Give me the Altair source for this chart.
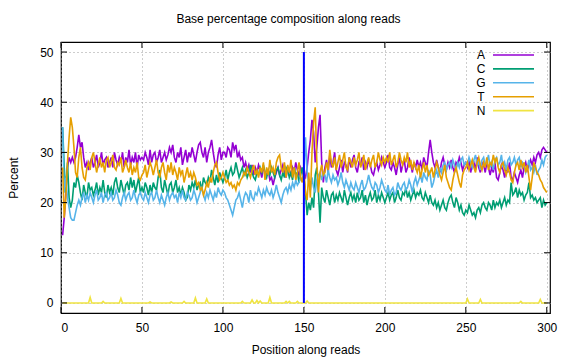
import altair as alt
import pandas as pd

# ---------------- data ----------------
positions = list(range(1, 301))

A = [
    13.5, 17, 22, 27, 29, 28, 29, 28, 29, 31,
    33.5, 31, 32, 29, 27, 28, 26.5, 28, 29, 27,
    28, 29.5, 27, 28, 30, 27.5, 28.5, 29, 27, 28,
    29, 27, 30, 28.5, 27.5, 29, 28, 30, 27, 29,
    28, 30.5, 27.5, 29, 28, 30, 27, 29.5, 28.5, 29,
    28.5, 30, 29, 27.5, 30.5, 28, 29.5, 30, 28, 29,
    30.5, 28, 29, 30, 28.5, 29.5, 31, 30, 31.5, 29,
    28, 30, 29, 31, 27.5, 29, 30.5, 28, 30, 29,
    31, 29.5, 28, 30, 31.5, 32, 30, 29, 31, 28,
    30, 31, 32.5, 30, 28, 27, 29.5, 31, 28.5, 30,
    30, 29, 31, 30.5, 29, 32, 30.5, 31.5, 29, 30,
    28.5, 29, 27, 28, 26.5, 27.5, 26, 27.5, 25.5, 27,
    26, 27.5, 26.5, 25, 27, 26, 25.5, 26.5, 24.5, 25,
    23.5, 25, 26, 27, 25.5, 26.5, 27.5, 26, 25, 27,
    26.5, 25.5, 27, 26, 28, 26.5, 25.5, 27, 26, 25.5,
    25, 27, 30, 32.5, 36.5, 34, 28, 31, 35, 37.5,
    28, 24, 27, 28.5, 26, 29.5, 27, 28, 30, 26.5,
    25.5, 27, 28.5, 26, 28, 27.5, 26, 29, 27, 28.5,
    29.5, 27, 26, 28, 27.5, 29, 26.5, 28, 27, 28.5,
    27.5, 26, 25.5, 27, 28, 26.5, 27.5, 29, 28, 27,
    28, 29.5, 27, 26.5, 28, 27, 25.5, 27.5, 29, 26,
    27.5, 28.5, 26, 27, 29, 27.5, 26, 28, 27, 28.5,
    27, 28, 26.5, 29, 28, 27, 30, 32.5, 30, 28,
    27, 28.5, 27, 26, 28, 29, 27.5, 26.5, 28, 27,
    28.5, 27, 26, 28, 27.5, 29, 28, 26.5, 27.5, 28,
    27, 28.5, 26, 27.5, 28, 26.5, 29, 27, 26, 28,
    27.5, 26, 28, 27, 25.5, 27, 26, 28, 25, 24.5,
    26, 27.5, 26.5, 25, 27, 26, 28, 25, 24.5, 26,
    25, 24, 25.5, 26.5, 25, 27, 28, 26.5, 27.5, 28.5,
    27.5, 29, 28, 29.5, 30, 29, 30.5, 31, 30.5, 30,
]

C = [
    35, 27, 22, 28, 21, 19, 20.5, 24, 23, 25.5,
    24, 22, 20.5, 23.5, 22, 21, 24, 22.5, 23, 21.5,
    22.5, 24, 21.5, 23, 22, 24.5, 22, 21, 23.5, 22,
    23, 21.5, 24, 25, 23, 22, 24.5, 23, 21.5, 23.5,
    24, 22.5, 25, 23, 24.5, 22, 23.5, 25, 22, 23,
    22, 24, 23, 21.5, 23.5, 22, 24, 23, 22.5, 25,
    26.5, 23, 22, 24.5, 23, 21.5, 23.5, 24, 22, 23,
    24.5, 22, 23, 21.5, 23, 22, 20.5, 21, 23.5, 22.5,
    24, 23, 24.5, 22.5, 23.5, 24, 22.5, 25, 24, 23.5,
    25, 24, 26.5, 25, 23.5, 25.5, 24, 26, 25, 24,
    25, 26.5, 24.5, 26, 27, 25.5, 26, 28, 26.5, 25,
    26, 27, 25.5, 26.5, 25, 26, 27.5, 26, 25, 24.5,
    26, 25.5, 27, 26, 27.5, 26, 25, 26.5, 25.5, 27,
    26, 25, 26.5, 27, 25.5, 24.5, 26, 25, 27, 26.5,
    25, 26, 24.5, 27, 25.5, 26, 24, 25.5, 27, 25,
    22, 17.5, 20, 18.5, 21, 19, 25.5, 27, 22, 16,
    23, 21, 20, 22.5, 21, 19.5, 21.5, 22, 20, 21.5,
    20.5, 22, 21, 20, 22.5, 21, 19.5, 21, 22, 20.5,
    21.5, 20, 22, 20.5, 21, 22.5, 20, 21.5, 19.5, 21,
    22, 20.5, 21, 22.5, 20, 21.5, 20.5, 22, 21, 20,
    21, 22, 20.5, 21.5, 22, 20, 21, 22.5, 21, 20.5,
    22, 21.5, 23, 21, 22, 20.5, 21.5, 22.5, 21, 22,
    21.5, 22.5, 21, 20.5, 22, 21, 20, 21.5, 20, 19.5,
    20.5, 19, 20, 18.5, 19.5, 20.5, 19, 18.5, 20, 21,
    21.5, 20, 19, 21, 20, 18.5, 19.5, 18, 17.5, 18.5,
    18, 19.5, 18.5, 17.5, 18, 17, 18.5, 19, 18, 19.5,
    20, 19, 18.5, 20, 19.5, 18.5, 20.5, 19, 20, 19.5,
    20.5, 19, 20, 21, 19.5, 20.5, 20, 24, 21.5, 22,
    23, 21, 22.5, 21.5, 22, 20.5, 21.5, 22, 24, 21,
    21.5, 20.5, 21, 20, 20.5, 21, 19, 20.5, 19.5, 20,
]

G = [
    35, 22, 25, 21, 19, 17, 16.5, 16.5, 18, 19.5,
    20.5, 19.5, 21, 22, 20, 21.5, 20.5, 22, 21, 20,
    21.5, 22.5, 20.5, 21, 22, 20, 21.5, 22, 20.5, 21,
    22, 20.5, 21, 22.5, 21.5, 20, 19.5, 21, 22, 20.5,
    21.5, 22, 20.5, 21, 22.5, 21, 20, 21.5, 22, 21,
    20.5, 22, 21, 20, 21.5, 22, 20.5, 21, 22.5, 21,
    20, 21.5, 20.5, 19.5, 21, 22, 20.5, 21.5, 22, 21,
    21.5, 20, 22, 21, 22.5, 21, 20.5, 22, 21.5, 20.5,
    21, 22.5, 21.5, 20, 21, 22, 23, 21.5, 20.5, 22,
    21, 22.5, 21.5, 20.5, 22, 21, 23, 22, 21.5, 22.5,
    22, 21, 20.5, 19.5, 18.5, 17.5, 19, 20.5, 21, 22,
    20.5, 19, 21, 22, 21.5, 20, 22.5, 21, 20.5, 22,
    21.5, 23, 22, 21, 22.5, 21.5, 23, 22, 21.5, 22.5,
    21, 22, 23.5, 22, 21, 20, 21.5, 22.5, 23, 22,
    23.5, 22.5, 24, 23, 24.5, 23.5, 24, 25, 24.5, 25.5,
    33, 26, 24, 22.5, 25, 23, 22, 24.5, 25.5, 26,
    24.5, 26, 25.5, 24, 26.5, 25, 24, 25.5, 24.5, 25,
    23.5, 24.5, 26, 24, 23, 24.5, 23.5, 22.5, 24, 23,
    22.5, 24, 23, 22, 23.5, 24.5, 22.5, 23, 24, 25.5,
    24, 23, 22.5, 24, 23.5, 22, 23, 24.5, 23.5, 22.5,
    22, 23.5, 21.5, 22.5, 23, 21.5, 22, 24, 23, 22.5,
    23.5, 24, 22.5, 23, 24.5, 23.5, 22, 24, 25, 23.5,
    24.5, 25.5, 24, 26, 25, 24.5, 26.5, 25.5, 23, 24,
    25.5, 26.5, 25, 27, 26, 27.5, 28, 26.5, 27.5, 28,
    27, 28.5, 27.5, 26.5, 28, 27, 28.5, 29, 27.5, 28,
    27.5, 29, 28, 27, 28.5, 29.5, 27.5, 28, 26.5, 28.5,
    29, 27.5, 28, 29.5, 27, 28, 26.5, 28.5, 29, 27.5,
    28, 29.5, 27, 28, 26.5, 28.5, 29, 27.5, 28, 29,
    27.5, 28.5, 29, 27, 28, 27.5, 26, 27, 28.5, 26.5,
    27, 26, 27.5, 25.5, 26.5, 27, 28.5, 27.5, 29, 29.5,
]

T = [
    27, 17, 21, 28, 33, 37, 35, 31, 26, 25,
    29, 31, 27, 25, 24.5, 27, 28, 26.5, 29, 30,
    28, 26, 27.5, 29, 27, 28, 26, 28.5, 29, 27,
    28, 29.5, 27, 26.5, 28, 27.5, 29, 26, 27, 28.5,
    27, 26, 28, 25.5, 27, 26, 28, 25, 24.5, 25.5,
    26, 27.5, 25, 26.5, 28, 27, 25.5, 27, 28.5, 26,
    25, 27, 28, 26, 24.5, 27.5, 26, 28, 25.5, 27,
    26, 24.5, 27, 25.5, 26.5, 24, 25.5, 27, 25, 26,
    24.5, 26, 25, 23.5, 24, 22.5, 23, 21.5, 22.5, 24,
    23, 25, 24, 26, 27.5, 28, 26, 24.5, 25, 26,
    25, 24, 24.5, 23.5, 24, 23, 23.5, 22.5, 24, 23.5,
    24.5, 25, 26, 25.5, 27, 26, 25, 26.5, 27.5, 25.5,
    26.5, 25, 27, 26, 28, 24.5, 27, 25.5, 28.5, 26,
    27, 25.5, 28, 29, 29.5, 27, 26, 28, 25, 27.5,
    26, 28.5, 25, 27, 24.5, 26, 28, 25, 24, 26.5,
    22, 20.5, 26, 21, 30, 36, 39, 28, 22, 26,
    27.5, 25.5, 26, 28, 26.5, 30.5, 28, 27, 29, 26.5,
    28, 29.5, 27, 28.5, 30, 27, 26.5, 29, 28, 27,
    29, 27.5, 28.5, 30, 27, 28, 29.5, 26.5, 28, 29,
    27, 28.5, 29.5, 27, 28, 30, 28.5, 27.5, 29, 28,
    29, 28, 30, 27.5, 28.5, 29.5, 27, 28, 30, 28.5,
    27.5, 29, 28, 30, 27, 28.5, 26.5, 28, 27, 26,
    27.5, 25, 26.5, 28, 26, 27.5, 25.5, 26, 27, 25,
    26.5, 28, 27, 25.5, 24.5, 26, 27.5, 25, 24, 23,
    22.5, 24.5, 26, 27, 25.5, 24, 23, 25.5, 26.5, 27,
    28, 26.5, 27.5, 28.5, 27, 26, 28, 29, 27.5, 26.5,
    28, 27, 29, 26.5, 28, 27.5, 29.5, 28, 29, 27,
    26, 27.5, 28, 26.5, 25.5, 27, 26, 24.5, 24, 26,
    27.5, 28, 26.5, 28.5, 27, 28, 26, 27.5, 25, 22.5,
    25, 28, 27, 26, 25.5, 24.5, 24, 23, 22.5, 22,
]

N = [
    0, 0, 0, 0, 0, 0, 0, 0, 0, 0,
    0, 0, 0, 0, 0, 0, 0, 1.1, 0, 0,
    0, 0, 0, 0, 0, 0.3, 0, 0, 0, 0,
    0, 0, 0, 0, 0, 0, 0.9, 0, 0, 0,
    0, 0, 0, 0, 0, 0, 0, 0, 0, 0,
    0, 0, 0, 0, 0.2, 0, 0, 0, 0, 0,
    0, 0, 0, 0, 0, 0, 0, 0.2, 0, 0,
    0, 0, 0, 0, 0, 0.3, 0, 0, 0, 0,
    0, 0, 1.0, 0, 0, 0, 0, 0, 0, 0.8,
    0, 0, 0, 0, 0, 0, 0, 0, 0, 0,
    0, 0, 0, 0, 0, 0, 0, 0, 0, 0,
    0, 0.3, 0, 0, 0, 0, 0, 0.6, 0, 0,
    0.5, 0, 0.4, 0, 0, 0, 0, 0, 1.1, 0,
    0, 0, 0, 0, 0, 0, 0, 0, 0.3, 0,
    0.3, 0, 0, 0, 0, 0.3, 0, 0, 0, 0,
    0, 0.4, 0, 0, 0, 0, 0, 0, 0, 0,
    0, 0, 0, 0, 0, 0, 0, 0, 0, 0,
    0, 0, 0, 0, 0, 0, 0, 0, 0, 0,
    0, 0, 0, 0, 0, 0, 0, 0, 0, 0,
    0, 0, 0, 0, 0, 0, 0, 0, 0, 0,
    0, 0, 0, 0, 0, 0, 0, 0, 0, 0,
    0, 0, 0, 0, 0, 0, 0, 0, 0, 0,
    0, 0, 0, 0, 0, 0, 0, 0, 0, 0,
    0, 0, 0, 0, 0, 0, 0, 0, 0, 0,
    0, 0, 0, 0, 0, 0, 0, 0, 0, 0,
    0.8, 0, 0, 0, 0, 0, 0, 0, 0.7, 0,
    0, 0, 0, 0, 0, 0, 0, 0, 0, 0,
    0, 0, 0, 0, 0, 0, 0, 0, 0, 0,
    0, 0, 0, 0.3, 0, 0, 0, 0, 0, 0,
    0, 0, 0, 0, 0, 0.7, 0, 0, 0, 0,
]

series_names = ["A", "C", "G", "T", "N"]
series_values = [A, C, G, T, N]
series_colors = ["#9400d3", "#009e73", "#56b4e9", "#e69f00", "#f0e442"]

x_ticks = [0, 50, 100, 150, 200, 250, 300]
y_ticks = [0, 10, 20, 30, 40, 50]
marker_position = 150
marker_range = [0, 50]

# ---------------- build tables ----------------
rows = []
for name, vals in zip(series_names, series_values):
    for p, v in zip(positions, vals):
        rows.append({"pos": p, "pct": v, "base": name})
df = pd.DataFrame(rows)

W, H = 489, 271
FONT = "Liberation Sans"
xscale = alt.Scale(domain=[0, 302], nice=False, zero=False)
yscale = alt.Scale(domain=[-2, 52], nice=False, zero=False)
cscale = alt.Scale(domain=series_names, range=series_colors)

x_axis = alt.Axis(values=x_ticks, title="Position along reads", grid=True,
                  gridDash=[1, 3], gridColor="#9a9a9a", gridWidth=1,
                  ticks=False, domain=False, labelPadding=9, titlePadding=11)
y_axis = alt.Axis(values=y_ticks, title="Percent", grid=True,
                  gridDash=[1, 3], gridColor="#9a9a9a", gridWidth=1,
                  ticks=False, domain=False, labelPadding=8, titlePadding=19)


def X(field):
    return alt.X(field, scale=xscale, axis=x_axis)


def Y(field):
    return alt.Y(field, scale=yscale, axis=y_axis)


layers = []
for name in series_names:
    layers.append(
        alt.Chart(df).transform_filter(alt.datum.base == name)
        .mark_line(strokeWidth=1.6, clip=True)
        .encode(x=X("pos:Q"), y=Y("pct:Q"),
                color=alt.Color("base:N", scale=cscale, legend=None))
    )

vdf = pd.DataFrame({"pos": [marker_position], "pct": [marker_range[0]], "pct2": [marker_range[1]]})
vline = alt.Chart(vdf).mark_rule(color="#0000ff", strokeWidth=2).encode(
    x=X("pos:Q"), y=Y("pct:Q"), y2="pct2:Q")

# inward ticks on all four sides
xt = pd.DataFrame({"pos": x_ticks})
yt = pd.DataFrame({"pct": y_ticks})
TL = 6
tick_b = alt.Chart(xt).mark_rule(color="black").encode(
    x=X("pos:Q"), y=alt.value(H), y2=alt.value(H - TL))
tick_t = alt.Chart(xt).mark_rule(color="black").encode(
    x=X("pos:Q"), y=alt.value(0), y2=alt.value(TL))
tick_l = alt.Chart(yt).mark_rule(color="black").encode(
    y=Y("pct:Q"), x=alt.value(0), x2=alt.value(TL))
tick_r = alt.Chart(yt).mark_rule(color="black").encode(
    y=Y("pct:Q"), x=alt.value(W), x2=alt.value(W - TL))

# key (top-right, label left of sample line, as in gnuplot)
leg = pd.DataFrame({"base": series_names,
                    "ly": [13 + 13.9 * i for i in range(len(series_names))]})
leg_text = alt.Chart(leg).mark_text(font=FONT, fontSize=12, align="center",
                                    baseline="middle", color="black").encode(
    x=alt.value(420), y=alt.Y("ly:Q", scale=None), text="base:N")
leg_line = alt.Chart(leg).mark_rule(strokeWidth=1.6).encode(
    x=alt.value(432), x2=alt.value(473), y=alt.Y("ly:Q", scale=None),
    color=alt.Color("base:N", scale=cscale, legend=None))

chart = alt.layer(*layers, vline, tick_b, tick_t, tick_l, tick_r, leg_line, leg_text).properties(
    width=W, height=H,
    autosize=alt.AutoSizeParams(type="none"),
    padding={"left": 53, "top": 34, "right": 18, "bottom": 46},
    title=alt.TitleParams("Base percentage composition along reads", font=FONT,
                          fontSize=12, fontWeight="normal", color="black",
                          anchor="middle", frame="group", offset=16, dx=-17),
).configure_view(stroke="black", strokeWidth=1.2).configure_axis(
    labelFont=FONT, labelFontSize=12, labelColor="black",
    titleFont=FONT, titleFontSize=12, titleFontWeight="normal", titleColor="black",
)

chart.save("out.html", embed_options={"renderer": "svg", "actions": False})
